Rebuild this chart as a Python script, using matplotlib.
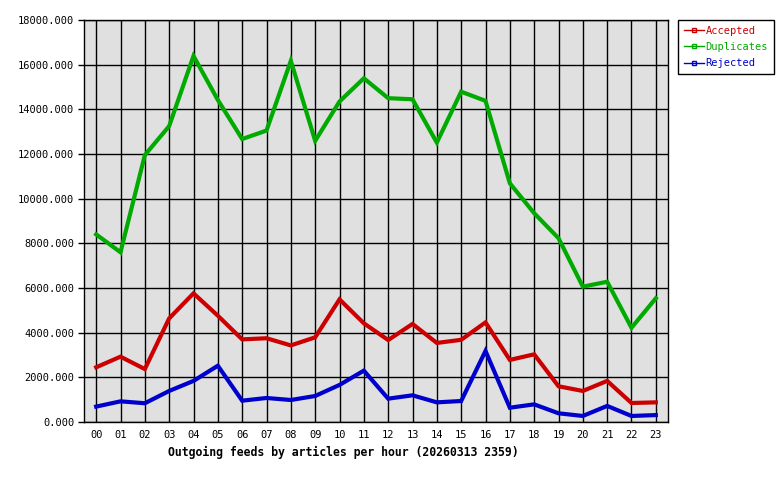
import matplotlib
matplotlib.use("Agg")
import matplotlib.pyplot as plt
from matplotlib.lines import Line2D

hours = ["%02d" % h for h in range(24)]
accepted = [2450, 2925, 2370, 4640, 5760, 4760, 3700, 3750, 3430, 3790, 5490, 4420,
            3670, 4390, 3540, 3680, 4460, 2780, 3030, 1600, 1390, 1840, 850, 880]
duplicates = [8400, 7600, 11950, 13250, 16390, 14420, 12670, 13050, 16170, 12590, 14350, 15390,
              14500, 14450, 12510, 14790, 14380, 10690, 9350, 8230, 6060, 6280, 4220, 5540]
rejected = [690, 925, 840, 1390, 1840, 2520, 955, 1075, 985, 1165, 1660, 2300,
            1045, 1195, 880, 940, 3180, 640, 790, 390, 270, 720, 270, 310]

series = [("Accepted", accepted, "#cc0000"),
          ("Duplicates", duplicates, "#00aa00"),
          ("Rejected", rejected, "#0000cc")]

plt.rcParams['font.family'] = ['DejaVu Sans Mono']

fig = plt.figure(figsize=(7.8, 4.8), dpi=100)
ax = fig.add_axes([84 / 780, 1 - 422 / 480, 584 / 780, 402 / 480])
ax.set_facecolor("#e0e0e0")

x = list(range(len(hours)))
for name, vals, col in series:
    ax.plot(x, vals, color=col, lw=3.0, solid_joinstyle="miter", zorder=3)

ax.set_xlim(-0.5, 23.5)
ax.set_ylim(0, 18000)
ax.set_xticks(x)
ax.set_xticklabels(hours, fontsize=7.5)
ax.set_yticks(range(0, 18001, 2000))
ax.set_yticklabels(["%d.000" % v for v in range(0, 18001, 2000)], fontsize=7.5)
ax.tick_params(axis="x", length=0, pad=6)
ax.tick_params(axis="y", length=4, width=1, pad=3)
ax.grid(True, color="black", lw=1)
ax.set_axisbelow(True)
for s in ax.spines.values():
    s.set_linewidth(1)

# caption sits left of the axes centre in the original
fig.text(343 / 780, 1 - 452 / 480, "Outgoing feeds by articles per hour (20260313 2359)",
         fontsize=8.3, fontweight="bold", ha="center", va="center")

handles = [Line2D([], [], color=c, lw=1, marker="s", ms=2.5, mfc="none") for _, _, c in series]
leg = fig.legend(handles, [n for n, _, _ in series], loc="upper left",
                 bbox_to_anchor=(678 / 780, 1 - 20 / 480), fontsize=7.5,
                 frameon=True, fancybox=False, edgecolor="black", framealpha=1,
                 handlelength=1.9, handletextpad=0.2, borderpad=0.55,
                 labelspacing=0.6, borderaxespad=0)
leg.get_frame().set_linewidth(1)
for t, (_, _, c) in zip(leg.get_texts(), series):
    t.set_color(c)

fig.savefig("out.png", dpi=100)
